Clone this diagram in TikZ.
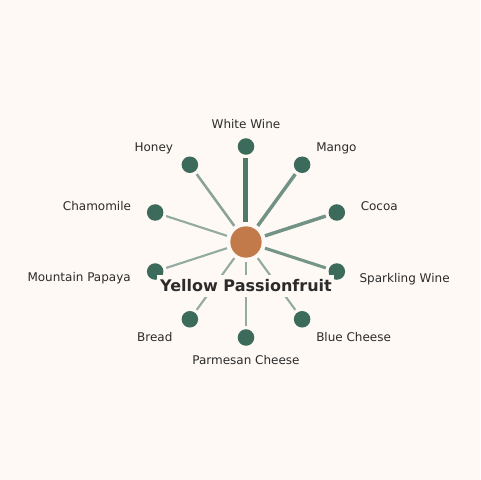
\documentclass[tikz,border=0pt]{standalone}
\usepackage{fontspec}
\setmainfont{DejaVu Sans}
\definecolor{bgc}{HTML}{FEF9F5}
\definecolor{nodec}{HTML}{3C6B5B}
\definecolor{centc}{HTML}{C27A4A}
\definecolor{txtc}{HTML}{2B2B2B}
\begin{document}
\begin{tikzpicture}[x=0.75pt,y=0.75pt,
  leaf/.style={circle,fill=nodec,inner sep=0pt,minimum size=12.4pt},
  hub/.style={circle,fill=centc,inner sep=0pt,minimum size=23.5pt},
  lbl/.style={font=\fontsize{9}{11}\selectfont,text=txtc,inner sep=0pt},
  link/.style={draw=nodec,shorten <=3pt,shorten >=2.3pt},
  title/.style={fill=bgc,font=\fontsize{12}{14}\selectfont\bfseries,text=txtc,inner xsep=2pt,inner ysep=0pt,minimum height=16.5pt}]
\fill[bgc] (-246,-238) rectangle (234,242);
\useasboundingbox (-246,-238) rectangle (234,242);
\node[hub] (c) at (0,0) {};
\foreach \n/\a in {ww/90,mg/54,co/18,sw/-18,bc/-54,pc/-90,br/-126,mp/-162,ch/162,ho/126}{
  \node[leaf] (\n) at (\a:95.5) {};
}
\draw[link,line width=3.75pt,draw opacity=0.9] (c) -- (ww);
\draw[link,line width=2.6pt,draw opacity=0.72] (c) -- (mg);
\draw[link,line width=2.6pt,draw opacity=0.72] (c) -- (co);
\draw[link,line width=2.3pt,draw opacity=0.7] (c) -- (sw);
\draw[link,line width=1.9pt,draw opacity=0.6] (c) -- (ho);
\draw[link,line width=1.6pt,draw opacity=0.55] (c) -- (ch);
\draw[link,line width=1.6pt,draw opacity=0.55] (c) -- (mp);
\draw[link,line width=1.6pt,draw opacity=0.55] (c) -- (br);
\draw[link,line width=1.6pt,draw opacity=0.55] (c) -- (pc);
\draw[link,line width=1.6pt,draw opacity=0.55] (c) -- (bc);
\node[lbl,anchor=base] (lww) at (0,113.3) {White Wine};
\node[lbl,anchor=base west] (lmg) at (70,90.3) {Mango};
\node[lbl,anchor=base west] (lco) at (114.5,32) {Cocoa};
\node[lbl,anchor=base west] (lsw) at (113.3,-40.3) {Sparkling Wine};
\node[lbl,anchor=base west] (lbc) at (70,-99.3) {Blue Cheese};
\node[lbl,anchor=base] (lpc) at (0,-122.7) {Parmesan Cheese};
\node[lbl,anchor=base east] (lbr) at (-73.3,-99.7) {Bread};
\node[lbl,anchor=base east] (lmp) at (-115,-39.7) {Mountain Papaya};
\node[lbl,anchor=base east] (lch) at (-114.7,32) {Chamomile};
\node[lbl,anchor=base east] (lho) at (-72.7,90.3) {Honey};
\node[title] (t) at (0,-44) {Yellow Passionfruit};
\end{tikzpicture}
\end{document}
